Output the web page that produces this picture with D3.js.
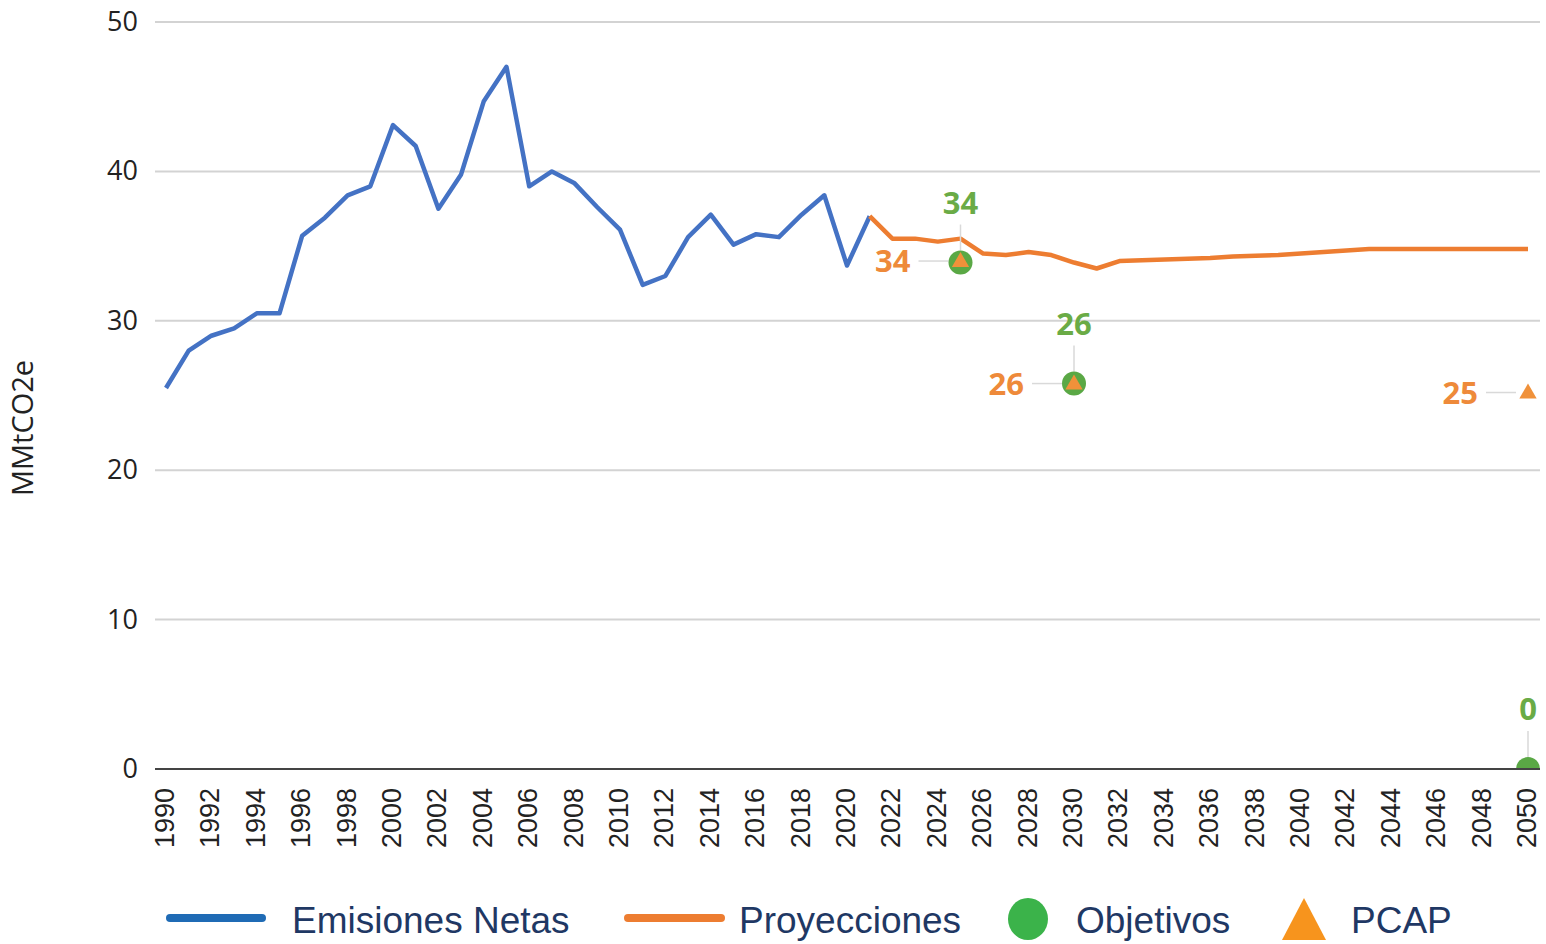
<!DOCTYPE html>
<html>
<head>
<meta charset="utf-8">
<script src="https://cdn.jsdelivr.net/npm/d3@7"></script>
<style>
  body { margin: 0; background: #fff; }
</style>
</head>
<body>
<div id="chart"></div>
<script>
// historical net emissions (MMtCO2e)
var histYears = [1990,1991,1992,1993,1994,1995,1996,1997,1998,1999,2000,2001,2002,2003,2004,2005,2006,2007,2008,2009,2010,2011,2012,2013,2014,2015,2016,2017,2018,2019,2020,2021];
var histValues = [25.5,28.0,29.0,29.5,30.5,30.5,35.7,36.9,38.4,39.0,43.1,41.7,37.5,39.8,44.7,47.0,39.0,40.0,39.2,37.6,36.1,32.4,33.0,35.6,37.1,35.1,35.8,35.6,37.1,38.4,33.7,37.0];

// projections
var projYears = [2021,2022,2023,2024,2025,2026,2027,2028,2029,2030,2031,2032,2033,2034,2035,2036,2037,2038,2039,2040,2041,2042,2043,2044,2045,2046,2047,2048,2049,2050];
var projValues = [37.0,35.5,35.5,35.3,35.5,34.5,34.4,34.6,34.4,33.9,33.5,34.0,34.05,34.1,34.15,34.2,34.3,34.35,34.4,34.5,34.6,34.7,34.8,34.8,34.8,34.8,34.8,34.8,34.8,34.8];

// targets (Objetivos) and PCAP
var targetYears = [2025, 2030, 2050];
var targetValues = [33.9, 25.8, 0];
var pcapYears = [2025, 2030, 2050];
var pcapValues = [34.0, 25.8, 25.2];

var yTicks = [0, 10, 20, 30, 40, 50];
var legendLabels = ["Emisiones Netas", "Proyecciones", "Objetivos", "PCAP"];

var width = 1546, height = 944;
var blue = "#4472c4", orange = "#ed7d31", greenLbl = "#6aab46", orangeLbl = "#ee8a3a", triColor = "#f0913a";

var svg = d3.select("#chart").append("svg")
  .attr("width", width)
  .attr("height", height)
  .style("font-family", "'Open Sans', sans-serif");

var x = d3.scaleLinear().domain([1990, 2050]).range([166, 1528]);
var y = d3.scaleLinear().domain([0, 50]).range([769, 22]);

// gridlines
svg.selectAll(".grid")
  .data(yTicks.filter(d => d > 0))
  .enter().append("line")
  .attr("x1", 155).attr("x2", 1540)
  .attr("y1", d => y(d)).attr("y2", d => y(d))
  .attr("stroke", "#d3d3d3")
  .attr("stroke-width", 2);

// y tick labels
svg.selectAll(".ylab")
  .data(yTicks)
  .enter().append("text")
  .attr("x", 138)
  .attr("y", d => y(d) + 9)
  .attr("text-anchor", "end")
  .attr("font-size", "27px")
  .attr("fill", "#222")
  .text(d => d);

// y axis title
svg.append("text")
  .attr("transform", "translate(33,428) rotate(-90)")
  .attr("text-anchor", "middle")
  .attr("font-size", "29px")
  .attr("fill", "#222")
  .text("MMtCO2e");

// x tick labels
var xTickYears = d3.range(1990, 2051, 2);
svg.selectAll(".xlab")
  .data(xTickYears)
  .enter().append("text")
  .attr("transform", d => "translate(" + (x(d) + 8) + ",788) rotate(-90)")
  .attr("text-anchor", "end")
  .attr("font-family", "'Liberation Sans', Arial, sans-serif")
  .attr("font-size", "27px")
  .attr("fill", "#222")
  .text(d => d);

var line = d3.line()
  .x(d => x(d[0]))
  .y(d => y(d[1]));

svg.append("path")
  .datum(histYears.map((yr, i) => [yr, histValues[i]]))
  .attr("d", line)
  .attr("fill", "none")
  .attr("stroke", blue)
  .attr("stroke-width", 4.5)
  .attr("stroke-linejoin", "round");

svg.append("path")
  .datum(projYears.map((yr, i) => [yr, projValues[i]]))
  .attr("d", line)
  .attr("fill", "none")
  .attr("stroke", orange)
  .attr("stroke-width", 4.5)
  .attr("stroke-linejoin", "round");

// leader lines for labels
var leaderColor = "#d9d9d9";
targetYears.forEach(function (yr, i) {
  svg.append("line")
    .attr("x1", x(yr)).attr("x2", x(yr))
    .attr("y1", y(targetValues[i]) - 38).attr("y2", y(targetValues[i]) - 12)
    .attr("stroke", leaderColor).attr("stroke-width", 1.5);
});
pcapYears.forEach(function (yr, i) {
  svg.append("line")
    .attr("x1", x(yr) - 42).attr("x2", x(yr) - 12)
    .attr("y1", y(pcapValues[i])).attr("y2", y(pcapValues[i]))
    .attr("stroke", leaderColor).attr("stroke-width", 1.5);
});

// clip markers at the plot floor
svg.append("clipPath").attr("id", "plotClip")
  .append("rect").attr("x", 0).attr("y", 0).attr("width", width).attr("height", 769);

var marks = svg.append("g").attr("clip-path", "url(#plotClip)");

marks.selectAll(".target")
  .data(targetYears)
  .enter().append("circle")
  .attr("cx", d => x(d))
  .attr("cy", (d, i) => y(targetValues[i]))
  .attr("r", 12)
  .attr("fill", "#5aa845");

var tri = d3.symbol().type(d3.symbolTriangle).size(130);
marks.selectAll(".pcap")
  .data(pcapYears)
  .enter().append("path")
  .attr("d", tri)
  .attr("transform", (d, i) => "translate(" + x(d) + "," + (y(pcapValues[i]) + 1) + ")")
  .attr("fill", triColor);

// x axis line
svg.append("line")
  .attr("x1", 155).attr("x2", 1540)
  .attr("y1", 769).attr("y2", 769)
  .attr("stroke", "#444")
  .attr("stroke-width", 2);

// data labels
var fmt = d3.format(".0f");
svg.selectAll(".tlab")
  .data(targetYears)
  .enter().append("text")
  .attr("x", d => x(d))
  .attr("y", (d, i) => y(targetValues[i]) - 49)
  .attr("text-anchor", "middle")
  .attr("font-size", "31px")
  .attr("font-weight", "bold")
  .attr("fill", greenLbl)
  .text((d, i) => fmt(targetValues[i]));

svg.selectAll(".plab")
  .data(pcapYears)
  .enter().append("text")
  .attr("x", d => x(d) - 50)
  .attr("y", (d, i) => y(pcapValues[i]) + 11)
  .attr("text-anchor", "end")
  .attr("font-size", "31px")
  .attr("font-weight", "bold")
  .attr("fill", orangeLbl)
  .text((d, i) => fmt(pcapValues[i]));

// legend
var lg = svg.append("g")
  .attr("font-family", "'Liberation Sans', Arial, sans-serif")
  .attr("font-size", "37px")
  .attr("fill", "#1f3864");

lg.append("line").attr("x1", 170).attr("x2", 262).attr("y1", 918).attr("y2", 918)
  .attr("stroke", "#1f6bb5").attr("stroke-width", 8).attr("stroke-linecap", "round");
lg.append("text").attr("x", 292).attr("y", 933).text(legendLabels[0]);

lg.append("line").attr("x1", 628).attr("x2", 721).attr("y1", 918).attr("y2", 918)
  .attr("stroke", orange).attr("stroke-width", 8).attr("stroke-linecap", "round");
lg.append("text").attr("x", 739).attr("y", 933).text(legendLabels[1]);

lg.append("ellipse").attr("cx", 1028).attr("cy", 919).attr("rx", 20).attr("ry", 21)
  .attr("fill", "#3bb34a");
lg.append("text").attr("x", 1076).attr("y", 933).text(legendLabels[2]);

lg.append("path").attr("d", "M1304,898 L1326,940 L1282,940 Z")
  .attr("fill", "#f7941d");
lg.append("text").attr("x", 1351).attr("y", 933).text(legendLabels[3]);
</script>
</body>
</html>
